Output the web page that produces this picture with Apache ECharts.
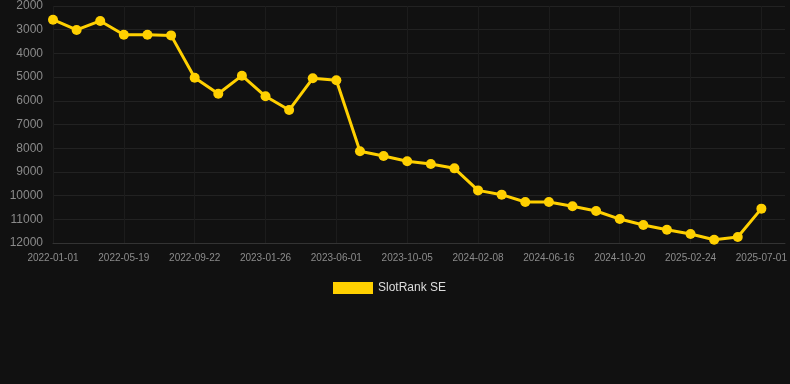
<!DOCTYPE html>
<html>
<head>
<meta charset="utf-8">
<script src="https://cdn.jsdelivr.net/npm/echarts@6/dist/echarts.min.js"></script>
<style>
  html, body { margin: 0; padding: 0; background: #111111; }
  #chart { width: 790px; height: 384px; }
</style>
</head>
<body>
<div id="chart"></div>
<script>
// categories (only every third date is labelled on the axis)
var dates = [
    '2022-01-01', '2022-02-16', '2022-04-03', '2022-05-19', '2022-06-30', '2022-08-11',
    '2022-09-22', '2022-11-03', '2022-12-15', '2023-01-26', '2023-03-09', '2023-04-20',
    '2023-06-01', '2023-07-13', '2023-08-24', '2023-10-05', '2023-11-16', '2023-12-28',
    '2024-02-08', '2024-03-22', '2024-05-04', '2024-06-16', '2024-07-28', '2024-09-08',
    '2024-10-20', '2024-12-01', '2025-01-12', '2025-02-24', '2025-04-07', '2025-05-19',
    '2025-07-01', '2025-08-12'
];
// rank values (lower is better, axis inverted)
var rankSE = [
    2580, 3010, 2630, 3210, 3210, 3240, 5030, 5700, 4940, 5810, 6390,
    5050, 5135, 8130, 8330, 8550, 8670, 8850, 9780, 9960, 10270, 10270,
    10450, 10650, 10990, 11240, 11440, 11620, 11860, 11750, 10550
];
var seriesName = 'SlotRank SE';
var lineColor = '#FFD000';

var chart = echarts.init(document.getElementById('chart'));
var option = {
    backgroundColor: '#111111',
    animation: false,
    grid: {
        top: 6,
        left: 53,
        right: 5,
        bottom: 141
    },
    legend: {
        data: [seriesName],
        top: 277,
        left: 328,
        icon: 'rect',
        itemWidth: 40,
        itemHeight: 12,
        itemGap: 10,
        textStyle: {
            color: '#dddddd',
            fontSize: 12,
            fontFamily: 'Arial, Liberation Sans, sans-serif'
        }
    },
    xAxis: {
        type: 'category',
        boundaryGap: false,
        data: dates,
        axisLine: { lineStyle: { color: '#333333' } },
        axisTick: { show: false },
        axisLabel: {
            interval: 2,
            color: '#8c8c8c',
            fontSize: 10,
            margin: 10,
            fontFamily: 'Arial, Liberation Sans, sans-serif'
        },
        splitLine: {
            show: true,
            interval: 2,
            lineStyle: { color: '#1c1c1c' }
        }
    },
    yAxis: {
        type: 'value',
        inverse: true,
        min: 2000,
        max: 12000,
        interval: 1000,
        axisLine: { show: false },
        axisTick: { show: false },
        axisLabel: {
            color: '#8a8a8a',
            fontSize: 12,
            margin: 10,
            fontFamily: 'Arial, Liberation Sans, sans-serif',
            formatter: function (v) { return String(v); }
        },
        splitLine: { lineStyle: { color: '#222222' } }
    },
    series: [{
        name: seriesName,
        type: 'line',
        data: rankSE,
        symbol: 'circle',
        symbolSize: 10,
        lineStyle: { color: lineColor, width: 3 },
        itemStyle: { color: lineColor }
    }]
};
chart.setOption(option);
</script>
</body>
</html>
